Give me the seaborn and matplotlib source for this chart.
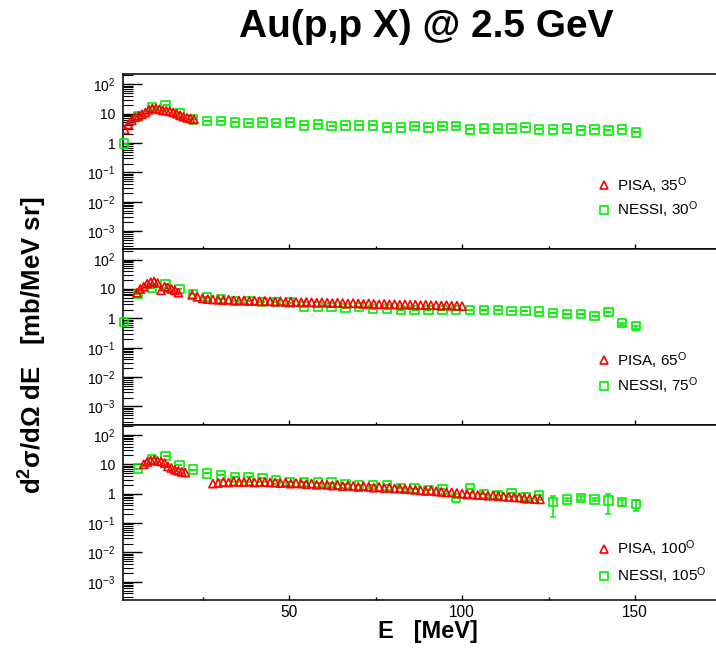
import numpy as np
import matplotlib
matplotlib.use('Agg')
import matplotlib.pyplot as plt
import seaborn as sns
from matplotlib.ticker import LogLocator, FixedLocator, FuncFormatter, NullFormatter, MultipleLocator
from matplotlib.lines import Line2D

sns.set_style('white')
plt.rcParams['font.family'] = ['Liberation Sans', 'DejaVu Sans']
plt.rcParams['mathtext.default'] = 'regular'
for key in ['text.color', 'axes.labelcolor', 'xtick.color', 'ytick.color', 'axes.edgecolor']:
    plt.rcParams[key] = 'black'

RED = '#ff0000'
GREEN = '#00ee00'

title = 'Au(p,p X) @ 2.5 GeV'
xlabel = 'E   [MeV]'
ylabel = 'd$^{2}$σ/dΩ dE   [mb/MeV sr]'
x_ticks = [50, 100, 150]
y_ticks = [1e-3, 1e-2, 1e-1, 1, 10, 100]
y_tick_labels = ['10$^{-3}$', '10$^{-2}$', '10$^{-1}$', '1', '10', '10$^{2}$']

pisa_labels = ['PISA, 35$^{O}$', 'PISA, 65$^{O}$', 'PISA, 100$^{O}$']
nessi_labels = ['NESSI, 30$^{O}$', 'NESSI, 75$^{O}$', 'NESSI, 105$^{O}$']

# ---------------- panel 1 : PISA 35 deg / NESSI 30 deg ----------------
pisa1_E = [2.5, 3.5, 4.5, 5.5, 6.5, 7.5, 8.5, 9.5, 10.5, 11.5, 12.5, 13.5, 14.5,
           15.5, 16.5, 17.5, 18.5, 19.5, 20.5, 21.5, 22.5]
pisa1_v = [2.9, 4.3, 6.0, 7.5, 8.5, 9.5, 11, 13.5, 15, 15, 14, 13, 12.5,
           12, 11, 10, 8.7, 7.8, 7.2, 6.8, 6.4]
nessi1_E = [2.3, 6.3, 10.3, 14.3, 18.3, 22.3, 26.3, 30.3, 34.3, 38.3, 42.3, 46.3, 50.3,
            54.3, 58.3, 62.3, 66.3, 70.3, 74.3, 78.3, 82.3, 86.3, 90.3, 94.3, 98.3,
            102.3, 106.3, 110.3, 114.3, 118.3, 122.3, 126.3, 130.3, 134.3, 138.3,
            142.3, 146.3, 150.3]
nessi1_v = [0.96, 8.1, 16.5, 19, 10.2, 6.4, 5.5, 5.5, 5.0, 4.7, 5.0, 4.7, 5.0,
            4.0, 4.3, 3.7, 4.0, 4.0, 4.0, 3.4, 3.4, 3.7, 3.4, 3.7, 3.7,
            2.9, 3.1, 3.1, 3.1, 3.4, 2.9, 2.9, 3.1, 2.7, 2.9,
            2.7, 2.9, 2.3]
nessi1_lo = [0.0] * 38
nessi1_hi = [0.0] * 38

# ---------------- panel 2 : PISA 65 deg / NESSI 75 deg ----------------
pisa2_E = [6, 7, 8, 9, 10, 11, 12, 13, 14, 15, 16, 17, 18,
           22, 23.5, 25, 26.5, 28, 29.5, 31, 32.5, 34, 35.5, 37, 38.5, 40, 41.5, 43,
           44.5, 46, 47.5, 49, 50.5, 52, 53.5, 55, 56.5, 58, 59.5, 61, 62.5, 64, 65.5,
           67, 68.5, 70, 71.5, 73, 74.5, 76, 77.5, 79, 80.5, 82, 83.5, 85, 86.5, 88,
           89.5, 91, 92.5, 94, 95.5, 97, 98.5, 100]
pisa2_v = [7.4, 10, 12, 15, 17, 18, 16, 9, 12, 11, 10, 9, 7.5,
           6.3, 5.4, 4.8, 4.5, 4.4, 4.3, 4.2, 4.3, 4.1, 4.0, 4.1, 3.9, 4.0, 3.8, 3.9,
           3.8, 3.7, 3.8, 3.6, 3.7, 3.6, 3.5, 3.6, 3.5, 3.4, 3.5, 3.4, 3.3, 3.4, 3.3,
           3.2, 3.3, 3.2, 3.1, 3.2, 3.1, 3.0, 3.1, 3.0, 3.0, 2.9, 3.0, 2.9, 2.9, 2.8,
           2.9, 2.8, 2.8, 2.7, 2.8, 2.7, 2.7, 2.6]
nessi2_E = nessi1_E
nessi2_v = [0.77, 6.9, 11, 15, 10.2, 6.9, 5.4, 4.6, 4.0, 4.0, 3.6, 3.6, 3.45,
            2.5, 2.5, 2.4, 2.2, 2.4, 2.1, 2.1, 1.9, 1.9, 1.9, 1.9, 1.9,
            1.9, 1.9, 1.9, 1.8, 1.8, 1.7, 1.56, 1.4, 1.4, 1.2,
            1.65, 0.7, 0.55]
nessi2_lo = [0.0] * 36 + [0.12, 0.1]
nessi2_hi = [0.0] * 38

# ---------------- panel 3 : PISA 100 deg / NESSI 105 deg ----------------
pisa3_E = [8, 9, 10, 11, 12, 13, 14, 15, 16, 17, 18, 19, 20,
           28, 29.5, 31, 32.5, 34, 35.5, 37, 38.5, 40, 41.5,
           43, 44.5, 46, 47.5, 49, 50.5, 52, 53.5, 55, 56.5,
           58, 59.5, 61, 62.5, 64, 65.5, 67, 68.5, 70, 71.5,
           73, 74.5, 76, 77.5, 79, 80.5, 82, 83.5, 85, 86.5,
           88, 89.5, 91, 92.5, 94, 95.5, 97, 98.5, 100, 101.5,
           103, 104.5, 106, 107.5, 109, 110.5, 112, 113.5, 115, 116.5,
           118, 119.5, 121, 122.5]
pisa3_v = [10, 12, 13.5, 14, 13, 12.5, 11, 8.5, 7.5, 6.5, 6, 5.5, 5.2,
           2.2, 2.3, 2.5, 2.4, 2.6, 2.5, 2.5, 2.6, 2.4, 2.5,
           2.5, 2.4, 2.4, 2.3, 2.4, 2.2, 2.3, 2.2, 2.1, 2.2,
           2.0, 2.1, 2.0, 1.9, 2.0, 1.8, 1.9, 1.8, 1.7, 1.8,
           1.7, 1.6, 1.7, 1.55, 1.6, 1.5, 1.5, 1.45, 1.4, 1.35,
           1.3, 1.25, 1.3, 1.2, 1.15, 1.1, 1.1, 1.05, 1.0, 0.95,
           0.95, 0.9, 0.9, 0.85, 0.88, 0.82, 0.8, 0.78, 0.75, 0.74,
           0.7, 0.68, 0.66, 0.64]
nessi3_E = [6.3, 10.3, 14.3, 18.3, 22.3, 26.3, 30.3, 34.3, 38.3, 42.3, 46.3, 50.3,
            54.3, 58.3, 62.3, 66.3, 70.3, 74.3, 78.3, 82.3, 86.3, 90.3, 94.3, 98.3,
            102.3, 106.3, 110.3, 114.3, 118.3, 122.3, 126.3, 130.3, 134.3, 138.3,
            142.3, 146.3, 150.3]
nessi3_v = [7.2, 14.7, 19, 9.3, 6.6, 4.9, 4.2, 3.6, 3.6, 3.4, 2.9, 2.5,
            2.5, 2.4, 2.4, 2.1, 1.9, 2.0, 1.9, 1.56, 1.5, 1.3, 1.4, 0.71,
            1.5, 1.0, 0.87, 1.05, 0.76, 0.87, 0.51, 0.64, 0.71, 0.64,
            0.59, 0.51, 0.45]
nessi3_lo = [0.0] * 26 + [0.22, 0.0, 0.26, 0.0, 0.35, 0.08, 0.12, 0.08, 0.38, 0.12, 0.2]
nessi3_hi = [0.0] * 26 + [0.25, 0.0, 0.29, 0.0, 0.32, 0.1, 0.15, 0.1, 0.4, 0.12, 0.15]

panels = [
    (pisa1_E, pisa1_v, nessi1_E, nessi1_v, nessi1_lo, nessi1_hi),
    (pisa2_E, pisa2_v, nessi2_E, nessi2_v, nessi2_lo, nessi2_hi),
    (pisa3_E, pisa3_v, nessi3_E, nessi3_v, nessi3_lo, nessi3_hi),
]
legend_y = [0.296, 0.294, 0.215]
legend_sp = [0.25, 0.3, 0.45]

fig = plt.figure(figsize=(7.16, 6.5), dpi=100)
axes = fig.subplots(3, 1, sharex=True)
fig.subplots_adjust(left=123 / 716, right=1.0, top=1 - 74 / 650, bottom=1 - 600 / 650, hspace=0)

for i, (ax, (pE, pV, nE, nV, nLo, nHi)) in enumerate(zip(axes, panels)):
    ax.set_yscale('log')
    ax.errorbar(nE, nV, yerr=[nLo, nHi], fmt='none', ecolor=GREEN, elinewidth=1.1,
                capsize=2.2, capthick=1.1, zorder=2)
    sns.scatterplot(x=nE, y=nV, ax=ax, marker='s', s=36, color=GREEN, facecolor='none',
                    edgecolor=GREEN, linewidth=1.2, zorder=3, clip_on=False, legend=False)
    sns.scatterplot(x=pE, y=pV, ax=ax, marker='^', s=34, color=RED, facecolor='none',
                    edgecolor=RED, linewidth=1.2, zorder=4, legend=False)
    ax.set_xlim(2.0, 173.4)
    ax.set_ylim(10 ** -3.62, 10 ** 2.35)
    ax.yaxis.set_major_locator(FixedLocator(y_ticks))
    ax.yaxis.set_major_formatter(FuncFormatter(lambda v, p: y_tick_labels[y_ticks.index(v)] if v in y_ticks else ''))
    ax.yaxis.set_minor_locator(LogLocator(base=10, subs=np.arange(2, 10), numticks=30))
    ax.yaxis.set_minor_formatter(NullFormatter())
    ax.xaxis.set_major_locator(FixedLocator(x_ticks))
    ax.xaxis.set_minor_locator(MultipleLocator(25))
    ax.tick_params(axis='y', which='major', direction='in', length=14, width=1.0,
                   left=True, right=False, labelsize=10, pad=5.5, colors='black')
    ax.tick_params(axis='y', which='minor', direction='in', length=7, width=0.8,
                   left=True, right=False, colors='black')
    ax.tick_params(axis='x', which='major', direction='in', length=3.6, width=1.0,
                   bottom=True, top=False, labelsize=11.2, pad=3.5, colors='black')
    ax.tick_params(axis='x', which='minor', direction='in', length=2.2, width=1.0,
                   bottom=True, top=False, colors='black')
    for side in ['left', 'bottom', 'top']:
        ax.spines[side].set_visible(True)
        ax.spines[side].set_color('black')
        ax.spines[side].set_linewidth(1.1)
    ax.spines['right'].set_visible(False)
    ax.set_xlabel('')
    ax.set_ylabel('')
    ax.grid(False)

    handles = [
        Line2D([], [], marker='^', ls='', mfc='none', mec=RED, ms=6, mew=1.2),
        Line2D([], [], marker='s', ls='', mfc='none', mec=GREEN, ms=5.5, mew=1.2),
    ]
    ax.legend(handles, [pisa_labels[i], nessi_labels[i]], loc='center left',
              bbox_to_anchor=(0.799, legend_y[i]), frameon=False, fontsize=11,
              handlelength=1.0, handletextpad=0.35, borderpad=0, borderaxespad=0,
              labelspacing=legend_sp[i])

fig.text(426 / 716, 1 - 37 / 650, title, ha='center', va='baseline', fontsize=28,
         fontweight='bold')
fig.text(428 / 716, 1 - 638 / 650, xlabel, ha='center', va='baseline', fontsize=17,
         fontweight='bold')
fig.text(33 / 716, 1 - 345 / 650, ylabel, ha='center', va='center', fontsize=18.5,
         fontweight='bold', rotation=90)

fig.savefig('out.png', dpi=100)
